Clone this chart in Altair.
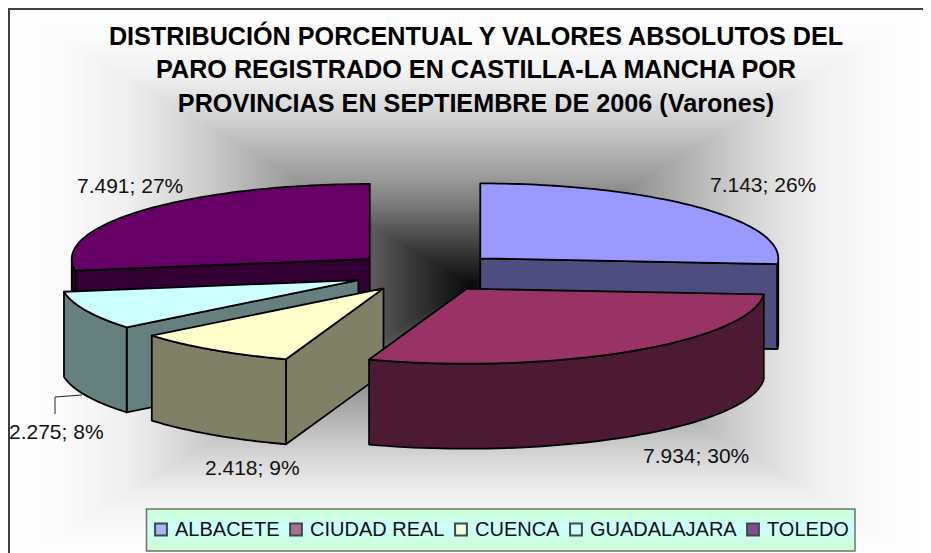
import math
import numpy as np
import pandas as pd
import altair as alt

# ---- data ----
provincias = ["ALBACETE", "CIUDAD REAL", "CUENCA", "GUADALAJARA", "TOLEDO"]
valores = [7143, 7934, 2418, 2275, 7491]
porcentajes = [26, 30, 9, 8, 27]
titulo = [
    "DISTRIBUCIÓN PORCENTUAL Y VALORES ABSOLUTOS DEL",
    "PARO REGISTRADO EN CASTILLA-LA MANCHA POR",
    "PROVINCIAS EN SEPTIEMBRE DE 2006 (Varones)",
]
color_tapa = ["#9999FF", "#993366", "#FFFFCC", "#CCFFFF", "#660066"]
color_lado = ["#4D4D80", "#4D1A33", "#808066", "#668080", "#330033"]

# ---- layout (page pixel coordinates) ----
CX, CY, EXPL_X, EXPL_Y = 426, 272, 74, 20
RX, RY, DEPTH = 298, 75, 85
orden_dibujo = [4, 0, 3, 2, 1]
etiqueta_x = [710, 643, 205, 9, 77]
etiqueta_y = [192, 463, 475, 439, 193]
GRAD_CX, GRAD_CY, GRAD_HW, GRAD_HH = 470, 285, 460, 279
grad_t = [0.0, 0.09, 0.2, 0.305, 0.405, 0.59, 0.75, 0.9, 1.0]
grad_gris = [10, 42, 85, 128, 160, 208, 240, 252, 255]


def pto(ax, ay, ang, z=0):
    a = math.radians(ang)
    return (ax + RX * math.sin(a), ay - RY * math.cos(a) + z)


filas = []
dominio, rango = [], []


def poligono(nombre, puntos, color):
    puntos = list(puntos) + [puntos[0]]
    dominio.append(nombre)
    rango.append(color)
    for i, (x, y) in enumerate(puntos):
        filas.append({"poly": nombre, "i": i, "x": x, "y": y})


total = sum(valores)
acum, ang_ini, ang_fin = 0, [], []
for v in valores:
    ang_ini.append(acum / total * 360)
    acum += v
    ang_fin.append(acum / total * 360)

for k in orden_dibujo:
    p, a0, a1 = provincias[k], ang_ini[k], ang_fin[k]
    m = math.radians((a0 + a1) / 2)
    ax = CX + EXPL_X * math.sin(m)
    ay = CY - EXPL_Y * math.cos(m)
    # only the radial wall that faces the viewer
    for nom, ang, visible in (("r0", a0, 180 < a0 < 360), ("r1", a1, 0 < a1 < 180)):
        if visible:
            e = pto(ax, ay, ang)
            poligono(f"{p}|{nom}", [(ax, ay), e, (e[0], e[1] + DEPTH), (ax, ay + DEPTH)], color_lado[k])
    b0, b1 = max(a0, 90), min(a1, 270)
    if b1 > b0:
        angs = np.linspace(b0, b1, 60)
        sup = [pto(ax, ay, t) for t in angs]
        inf = [pto(ax, ay, t, DEPTH) for t in angs[::-1]]
        poligono(f"{p}|arco", sup + inf, color_lado[k])
    angs = np.linspace(a0, a1, 80)
    poligono(f"{p}|tapa", [(ax, ay)] + [pto(ax, ay, t) for t in angs], color_tapa[k])

df = pd.DataFrame(filas)

X = alt.X("x:Q", scale=alt.Scale(domain=[8, 923], range=[0, 915]), axis=None)
Y = alt.Y("y:Q", scale=alt.Scale(domain=[553, 8], range=[545, 0]), axis=None)
X2 = alt.X2("x2:Q")
Y2 = alt.Y2("y2:Q")

# background: rectangular path gradient as nested rectangles
ts = np.linspace(1, 0, 129)
grises = np.interp(ts, grad_t, grad_gris)
fondo_df = pd.DataFrame({
    "x": np.maximum(GRAD_CX - ts * GRAD_HW, 8), "x2": np.minimum(GRAD_CX + ts * GRAD_HW, 923),
    "y": np.maximum(GRAD_CY - ts * GRAD_HH, 8), "y2": np.minimum(GRAD_CY + ts * GRAD_HH, 553),
    "c": ["#%02x%02x%02x" % (int(g), int(g), int(g)) for g in grises],
    "n": range(len(ts)),
})
fondo = alt.Chart(fondo_df).mark_rect(strokeWidth=0).encode(
    x=X, y=Y, x2=X2, y2=Y2, fill=alt.Fill("c:N", scale=None), order="n:Q")

marco_df = pd.DataFrame({"x": [9, 9, 923], "y": [553, 9, 9], "i": [0, 1, 2]})
marco = alt.Chart(marco_df).mark_line(stroke="#404040", strokeWidth=2).encode(x=X, y=Y, order="i:Q")

caras = alt.Chart(df).mark_line(stroke="black", strokeWidth=1.8, strokeJoin="round", fill="white").encode(
    x=X, y=Y, order="i:Q",
    fill=alt.Fill("poly:N", scale=alt.Scale(domain=dominio, range=rango), legend=None),
)

guia_df = pd.DataFrame({"x": [55, 55, 82], "y": [414, 397, 395], "i": [0, 1, 2]})
guia = alt.Chart(guia_df).mark_line(stroke="#222222", strokeWidth=1).encode(x=X, y=Y, order="i:Q")

etq_df = pd.DataFrame({
    "x": etiqueta_x, "y": etiqueta_y,
    "t": [f"{v:,}".replace(",", ".") + f"; {p}%" for v, p in zip(valores, porcentajes)],
})
etiquetas = alt.Chart(etq_df).mark_text(
    font="Liberation Sans", fontSize=21, align="left", baseline="alphabetic", color="#111111"
).encode(x=X, y=Y, text="t:N")

leyenda_df = pd.DataFrame({"x": [146.5], "x2": [855], "y": [509], "y2": [551]})
caja = alt.Chart(leyenda_df).mark_rect(
    stroke="#707070", strokeWidth=1.5,
    fill=alt.Gradient(gradient="linear", x1=0, x2=0, y1=0, y2=1, stops=[
        alt.GradientStop(color="#CCFFCC", offset=0),
        alt.GradientStop(color="#CCFFFF", offset=0.45),
        alt.GradientStop(color="#CCFFCC", offset=1),
    ]),
).encode(x=X, y=Y, x2=X2, y2=Y2)

ley_df = pd.DataFrame({"provincia": provincias})
leyenda = alt.Chart(ley_df).mark_square(size=0).encode(
    x=alt.value(0), y=alt.value(0),
    fill=alt.Fill("provincia:N", scale=alt.Scale(domain=provincias, range=color_tapa),
                  legend=alt.Legend(
                      orient="none", legendX=137, legendY=505.5, direction="horizontal", columns=5, title=None,
                      labelFont="Liberation Sans", labelFontSize=20, labelColor="#111111", labelOffset=4,
                      symbolType="square", symbolSize=140, symbolStrokeColor="black", symbolStrokeWidth=2,
                      columnPadding=6, padding=6, labelLimit=300,
                  )),
)

chart = alt.layer(fondo, marco, caras, guia, etiquetas, caja, leyenda).resolve_scale(fill="independent").properties(
    width=915, height=545, padding=0, autosize=alt.AutoSizeParams(type="none"),
    title=alt.TitleParams(text=titulo, font="Liberation Sans", fontSize=25.2, fontWeight="bold", color="black",
                          anchor="middle", lineHeight=33.5, baseline="alphabetic", dx=10.5, dy=136),
).configure_view(stroke=None)

chart.save("out.html", embed_options={"renderer": "svg", "actions": False})
